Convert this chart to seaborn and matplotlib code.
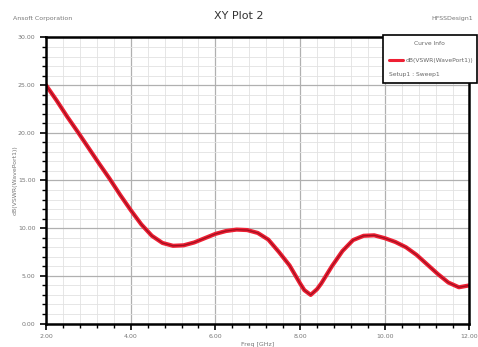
import numpy as np
import pandas as pd
import matplotlib
matplotlib.use("Agg")
import matplotlib.pyplot as plt
import seaborn as sns
from matplotlib.ticker import MultipleLocator, FormatStrFormatter
from matplotlib.lines import Line2D
from matplotlib.patches import Rectangle

# values (Freq in GHz, dB(VSWR))
freq = [2.0, 2.25, 2.5, 2.75, 3.0, 3.25, 3.5, 3.75, 4.0, 4.25, 4.5, 4.75,
        5.0, 5.25, 5.5, 5.75, 6.0, 6.25, 6.5, 6.75, 7.0, 7.25, 7.5, 7.75,
        8.0, 8.1, 8.25, 8.4, 8.5, 8.75, 9.0, 9.25, 9.5, 9.75, 10.0, 10.25,
        10.5, 10.75, 11.0, 11.25, 11.5, 11.75, 12.0]
vswr_db = [25.0, 23.4, 21.7, 20.1, 18.45, 16.8, 15.2, 13.5, 11.9, 10.4, 9.2, 8.45,
           8.15, 8.2, 8.5, 8.95, 9.4, 9.7, 9.85, 9.8, 9.5, 8.8, 7.5, 6.1,
           4.2, 3.5, 3.0, 3.6, 4.2, 6.0, 7.6, 8.75, 9.2, 9.25, 8.95, 8.55,
           8.0, 7.2, 6.2, 5.2, 4.3, 3.8, 4.0]

trace_name = "dB(VSWR(WavePort1))"
setup_name = "Setup1 : Sweep1"

df = pd.DataFrame({"Freq": freq, "dB": vswr_db})

sns.set_theme(style="white")
plt.rcParams["font.family"] = ["DejaVu Sans"]

fig = plt.figure(figsize=(4.78, 3.47), dpi=100)
ax = fig.add_axes([0.0962, 0.0677, 0.886, 0.8243])

sns.lineplot(data=df, x="Freq", y="dB", ax=ax, color="#ee1f33", linewidth=3.0)
sns.lineplot(data=df, x="Freq", y="dB", ax=ax, color="#a01020", linewidth=0.9)

ax.set_xlim(2, 12)
ax.set_ylim(0, 30)
ax.xaxis.set_major_locator(MultipleLocator(2))
ax.xaxis.set_minor_locator(MultipleLocator(0.4))
ax.yaxis.set_major_locator(MultipleLocator(5))
ax.yaxis.set_minor_locator(MultipleLocator(1))
ax.xaxis.set_major_formatter(FormatStrFormatter("%.2f"))
ax.yaxis.set_major_formatter(FormatStrFormatter("%.2f"))

ax.grid(which="major", color="#b0b0b0", linewidth=0.9)
ax.grid(which="minor", color="#e2e2e2", linewidth=0.6)
ax.set_axisbelow(True)

for s in ax.spines.values():
    s.set_color("black")
    s.set_linewidth(1.8)

ax.tick_params(axis="both", which="major", labelsize=4.5, labelcolor="#777777",
               length=4, width=1.2, color="black", direction="out")
ax.tick_params(axis="both", which="minor", length=3, width=1.0, color="black",
               direction="out")
ax.tick_params(left=True, bottom=True, which="both")

ax.set_xlabel("Freq [GHz]", fontsize=4.5, color="#777777", labelpad=2)
ax.set_ylabel(trace_name, fontsize=4.5, color="#777777", labelpad=0)

fig.text(0.5, 0.955, "XY Plot 2", ha="center", va="center", fontsize=8, color="#333333")
fig.text(0.028, 0.948, "Ansoft Corporation", ha="left", va="center", fontsize=4.5, color="#777777")
fig.text(0.99, 0.948, "HFSSDesign1", ha="right", va="center", fontsize=4.5, color="#777777")

# HFSS-style curve info box
fig.patches.append(Rectangle((0.801, 0.761), 0.196, 0.138, transform=fig.transFigure,
                             facecolor="white", edgecolor="black", linewidth=1.2,
                             zorder=10))
fig.text(0.899, 0.876, "Curve Info", ha="center", va="center", fontsize=4.3,
         color="#666666", zorder=11)
fig.lines.append(Line2D([0.814, 0.843], [0.827, 0.827], transform=fig.transFigure,
                        color="#ee1f33", linewidth=2.2, zorder=11))
fig.text(0.849, 0.827, trace_name, ha="left", va="center", fontsize=4.3,
         color="#666666", zorder=11)
fig.text(0.814, 0.786, setup_name, ha="left", va="center", fontsize=4.3,
         color="#666666", zorder=11)

fig.savefig("out.png", dpi=100)
